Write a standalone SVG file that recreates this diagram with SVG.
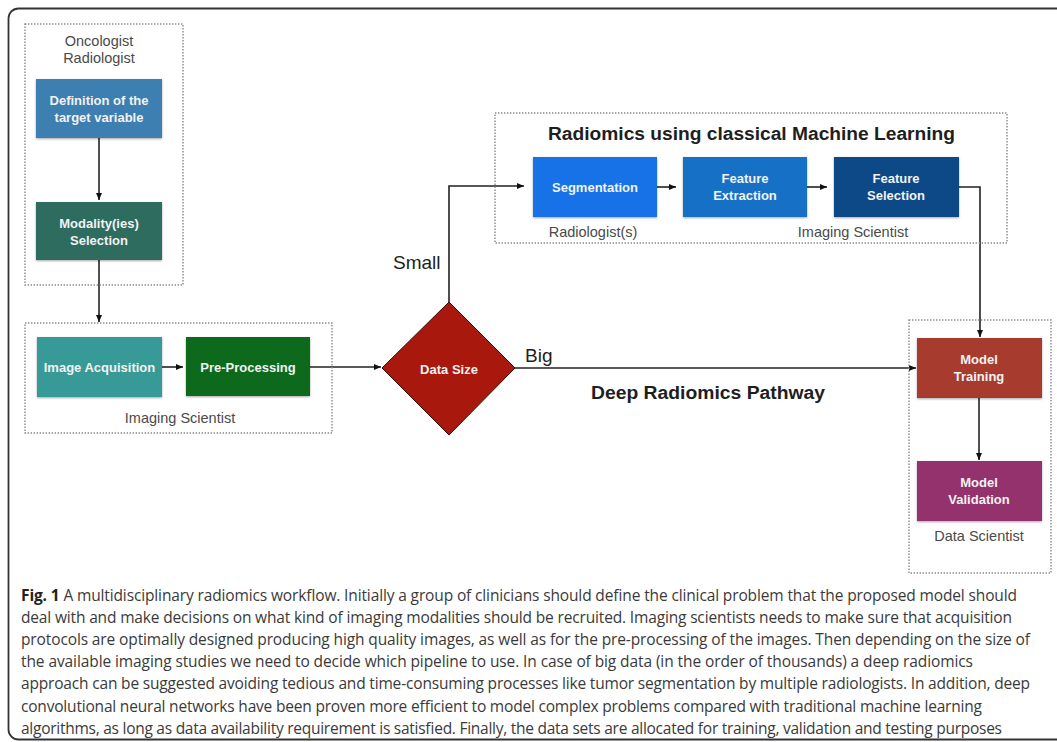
<svg xmlns="http://www.w3.org/2000/svg" width="1057" height="742" viewBox="0 0 1057 742">
<defs>
<marker id="ah" markerWidth="8" markerHeight="8" refX="7" refY="4" orient="auto" markerUnits="userSpaceOnUse">
<path d="M0,1 L7,4 L0,7 Z" fill="#111"/>
</marker>
<filter id="sh" x="-10%" y="-10%" width="120%" height="130%">
<feDropShadow dx="0" dy="1" stdDeviation="1" flood-color="#000" flood-opacity="0.35"/>
</filter>
<style>
.grp{fill:none;stroke:#8a8a8a;stroke-width:1.4;stroke-dasharray:1.4 1.6}
.box{filter:url(#sh)}
.bt{font-family:"Liberation Sans",Arial,sans-serif;font-size:13px;font-weight:bold;fill:#f2f2f2;text-anchor:middle}
.lbl{font-family:"Liberation Sans",Arial,sans-serif;font-size:14.5px;fill:#4a4a4a;text-anchor:middle}
.big{font-family:"Liberation Sans",Arial,sans-serif;font-size:19px;fill:#1e1e1e}
.ttl{font-family:"Liberation Sans",Arial,sans-serif;font-size:18px;font-weight:bold;fill:#1e1e1e}
.con{fill:none;stroke:#222;stroke-width:1.6}
.cap{font-family:"Open Sans","Noto Sans",sans-serif;font-size:15.5px;fill:#3a3a3a}
</style>
</defs>
<rect width="1057" height="742" fill="#fff"/>
<rect x="8.5" y="8.5" width="1070" height="731" rx="10" ry="10" fill="none" stroke="#333" stroke-width="1.8"/>

<g id="connectors">
<path class="con" d="M99,138 V200" marker-end="url(#ah)"/>
<path class="con" d="M99,260 V322" marker-end="url(#ah)"/>
<path class="con" d="M162,367 H183" marker-end="url(#ah)"/>
<path class="con" d="M310,367 H381" marker-end="url(#ah)"/>
<path class="con" d="M449,302 V186 H524" marker-end="url(#ah)"/>
<path class="con" d="M657,187 H676" marker-end="url(#ah)"/>
<path class="con" d="M807,187 H827" marker-end="url(#ah)"/>
<path class="con" d="M959,187 H980 V337" marker-end="url(#ah)"/>
<path class="con" d="M515,368 H916" marker-end="url(#ah)"/>
<path class="con" d="M979,398 V460" marker-end="url(#ah)"/>
<text class="big" x="393" y="269">Small</text>
<text class="big" x="525" y="362">Big</text>
</g>

<g id="clinicians">
<rect class="grp" x="25" y="24" width="158" height="261"/>
<text class="lbl" x="99" y="46">Oncologist</text>
<text class="lbl" x="99" y="63">Radiologist</text>
</g>
<g id="definition">
<rect class="box" x="36" y="79" width="126" height="59" fill="#3e7fb0"/>
<text class="bt" x="99" y="105">Definition of the</text>
<text class="bt" x="99" y="122">target variable</text>
</g>
<g id="modality">
<rect class="box" x="36" y="202" width="126" height="58" fill="#2d6c61"/>
<text class="bt" x="99" y="228">Modality(ies)</text>
<text class="bt" x="99" y="245">Selection</text>
</g>

<g id="imaging">
<rect class="grp" x="25" y="323" width="307" height="110"/>
<text class="lbl" x="180" y="423">Imaging Scientist</text>
</g>
<g id="acquisition">
<rect class="box" x="37" y="337" width="125" height="60" fill="#379a96"/>
<text class="bt" x="99.5" y="372">Image Acquisition</text>
</g>
<g id="preprocessing">
<rect class="box" x="186" y="337" width="124" height="59" fill="#0b6b1b"/>
<text class="bt" x="248" y="372">Pre-Processing</text>
</g>

<g id="datasize">
<polygon points="449,302 515,368 449,435 382,368" fill="#a8180c" stroke="#3a0a05" stroke-width="1"/>
<text class="bt" x="449" y="374">Data Size</text>
</g>

<g id="radiomics">
<rect class="grp" x="495" y="113" width="512" height="130"/>
<text class="ttl" x="548" y="140" textLength="407" lengthAdjust="spacingAndGlyphs">Radiomics using classical Machine Learning</text>
<text class="lbl" x="593" y="237">Radiologist(s)</text>
<text class="lbl" x="853" y="237">Imaging Scientist</text>
</g>
<g id="segmentation">
<rect class="box" x="533" y="157" width="124" height="60" fill="#1272e6"/>
<text class="bt" x="595" y="192">Segmentation</text>
</g>
<g id="extraction">
<rect class="box" x="683" y="157" width="124" height="60" fill="#196fc6"/>
<text class="bt" x="745" y="183">Feature</text>
<text class="bt" x="745" y="200">Extraction</text>
</g>
<g id="selection">
<rect class="box" x="834" y="157" width="125" height="60" fill="#0e4a86"/>
<text class="bt" x="896" y="183">Feature</text>
<text class="bt" x="896" y="200">Selection</text>
</g>

<g id="deep">
<text class="ttl" x="591" y="399" textLength="234" lengthAdjust="spacingAndGlyphs">Deep Radiomics Pathway</text>
</g>

<g id="datascientist">
<rect class="grp" x="909" y="320" width="142" height="253"/>
<text class="lbl" x="979" y="541">Data Scientist</text>
</g>
<g id="training">
<rect class="box" x="917" y="338" width="125" height="60" fill="#a73a2d"/>
<text class="bt" x="979" y="364">Model</text>
<text class="bt" x="979" y="381">Training</text>
</g>
<g id="validation">
<rect class="box" x="917" y="461" width="125" height="60" fill="#94336d"/>
<text class="bt" x="979" y="487">Model</text>
<text class="bt" x="979" y="504">Validation</text>
</g>

<g id="caption">
<text class="cap" x="21" y="601" textLength="996" lengthAdjust="spacing"><tspan font-weight="bold" fill="#222">Fig. 1</tspan> A multidisciplinary radiomics workflow. Initially a group of clinicians should define the clinical problem that the proposed model should</text>
<text class="cap" x="21" y="623" textLength="991" lengthAdjust="spacing">deal with and make decisions on what kind of imaging modalities should be recruited. Imaging scientists needs to make sure that acquisition</text>
<text class="cap" x="21" y="645" textLength="1009" lengthAdjust="spacing">protocols are optimally designed producing high quality images, as well as for the pre-processing of the images. Then depending on the size of</text>
<text class="cap" x="21" y="667" textLength="952" lengthAdjust="spacing">the available imaging studies we need to decide which pipeline to use. In case of big data (in the order of thousands) a deep radiomics</text>
<text class="cap" x="21" y="689" textLength="1009" lengthAdjust="spacing">approach can be suggested avoiding tedious and time-consuming processes like tumor segmentation by multiple radiologists. In addition, deep</text>
<text class="cap" x="21" y="712" textLength="961" lengthAdjust="spacing">convolutional neural networks have been proven more efficient to model complex problems compared with traditional machine learning</text>
<text class="cap" x="21" y="734" textLength="981" lengthAdjust="spacing">algorithms, as long as data availability requirement is satisfied. Finally, the data sets are allocated for training, validation and testing purposes</text>
</g>
</svg>
